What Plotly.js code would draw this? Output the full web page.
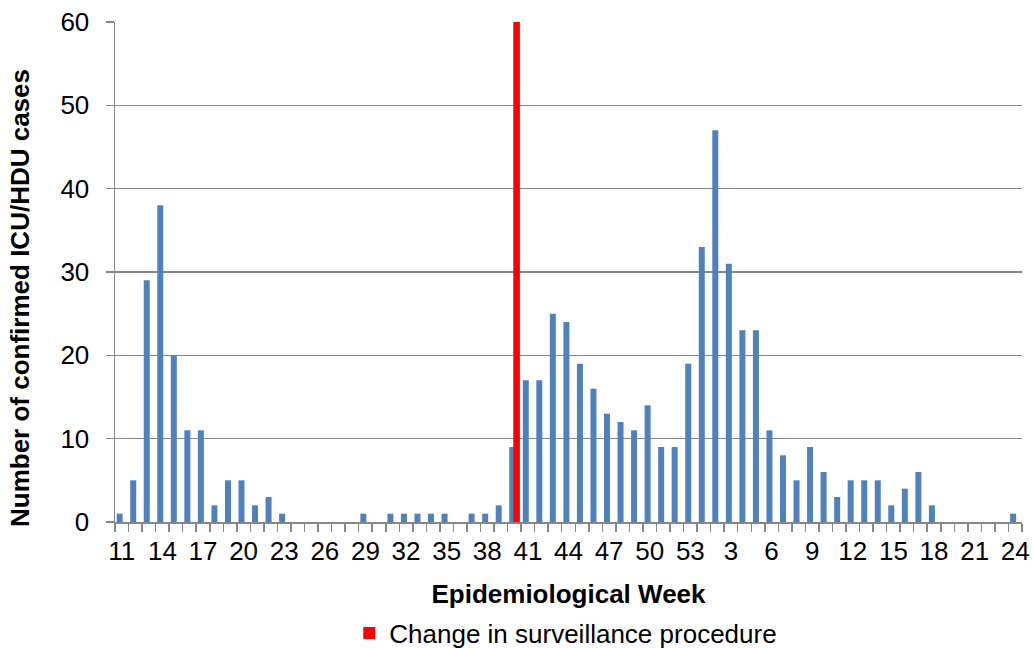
<!DOCTYPE html>
<html>
<head>
<meta charset="utf-8">
<script src="https://cdn.plot.ly/plotly-3.0.1.min.js"></script>
<style>html,body{margin:0;padding:0;background:#fff;}#chart{width:1034px;height:648px;}</style>
</head>
<body>
<div id="chart"></div>
<script>
// Epidemiological weeks (2009 wk 11-53, then 2010 wk 1-24)
const weeks = ["11","12","13","14","15","16","17","18","19","20","21","22","23","24","25","26","27","28","29","30",
  "31","32","33","34","35","36","37","38","39","40","41","42","43","44","45","46","47","48","49","50","51","52","53",
  "1","2","3","4","5","6","7","8","9","10","11","12","13","14","15","16","17","18","19","20","21","22","23","24"];
const cases = [1,5,29,38,20,11,11,2,5,5,2,3,1,0,0,0,0,0,1,0,
  1,1,1,1,1,0,1,1,2,9,17,17,25,24,19,16,13,12,11,14,9,9,19,
  33,47,31,23,23,11,8,5,9,6,3,5,5,5,2,4,6,2,0,0,0,0,0,1];
const changeWeekIndex = 29;          // week 40 of 2009
const changeValue = [60];
const changeName = "Change in surveillance procedure";
const yTitle = "Number of confirmed ICU/HDU cases";
const xTitle = "Epidemiological Week";
const tickStep = 3;

const xIdx = weeks.map((w, i) => i);
const tickIdx = xIdx.filter(i => i % tickStep === 0);
const tickTxt = tickIdx.map(i => weeks[i]);

const grey = '#868686';
const font = {family: 'Liberation Sans, Arial, sans-serif', size: 26, color: '#000'};

const traces = [
  {type: 'bar', x: xIdx, y: cases, width: 0.443, offset: -0.377,
   marker: {color: '#4F81BD', line: {width: 0}}, showlegend: false, hoverinfo: 'skip'},
  {type: 'bar', x: [changeWeekIndex], y: changeValue, width: 0.49, offset: -0.08,
   name: changeName, marker: {color: '#FF0000', line: {width: 0}}, hoverinfo: 'skip'}
];

const layout = {
  width: 1034, height: 648,
  margin: {l: 115, r: 12, t: 22, b: 126},
  paper_bgcolor: '#fff', plot_bgcolor: '#fff',
  font: font,
  barmode: 'overlay',
  showlegend: true,
  legend: {orientation: 'h', x: 0.497, xanchor: 'center', xref: 'paper',
           yref: 'container', y: 0.023, yanchor: 'middle',
           font: font, itemwidth: 30},
  annotations: [{
    text: '<b>' + yTitle + '</b>', textangle: -90, showarrow: false,
    xref: 'paper', yref: 'paper', x: 0, xanchor: 'center', xshift: -95,
    y: 0.448, yanchor: 'middle', font: font
  }],
  xaxis: {
    automargin: false,
    range: [-0.5, weeks.length - 0.5],
    tickmode: 'array', tickvals: tickIdx, ticktext: tickTxt,
    ticks: 'outside', ticklen: 5, tickcolor: 'rgba(0,0,0,0)',
    minor: {tick0: -0.5, dtick: 1, ticks: 'outside', ticklen: 8, tickcolor: grey, tickwidth: 1.5, showgrid: false},
    showline: true, linecolor: grey, linewidth: 1.5,
    showgrid: false, zeroline: false,
    tickfont: font,
    title: {text: '<b>' + xTitle + '</b>', font: font, standoff: 20}
  },
  yaxis: {
    automargin: false,
    range: [0, 60], dtick: 10, tick0: 0,
    ticks: 'outside', ticklen: 8, tickcolor: grey, tickwidth: 1.5,
    showline: true, linecolor: grey, linewidth: 1.5,
    showgrid: true, gridcolor: grey, gridwidth: 1.5,
    zeroline: false,
    tickfont: font, ticklabelstandoff: 11
  }
};

Plotly.newPlot('chart', traces, layout, {staticPlot: true, displayModeBar: false});
</script>
</body>
</html>
